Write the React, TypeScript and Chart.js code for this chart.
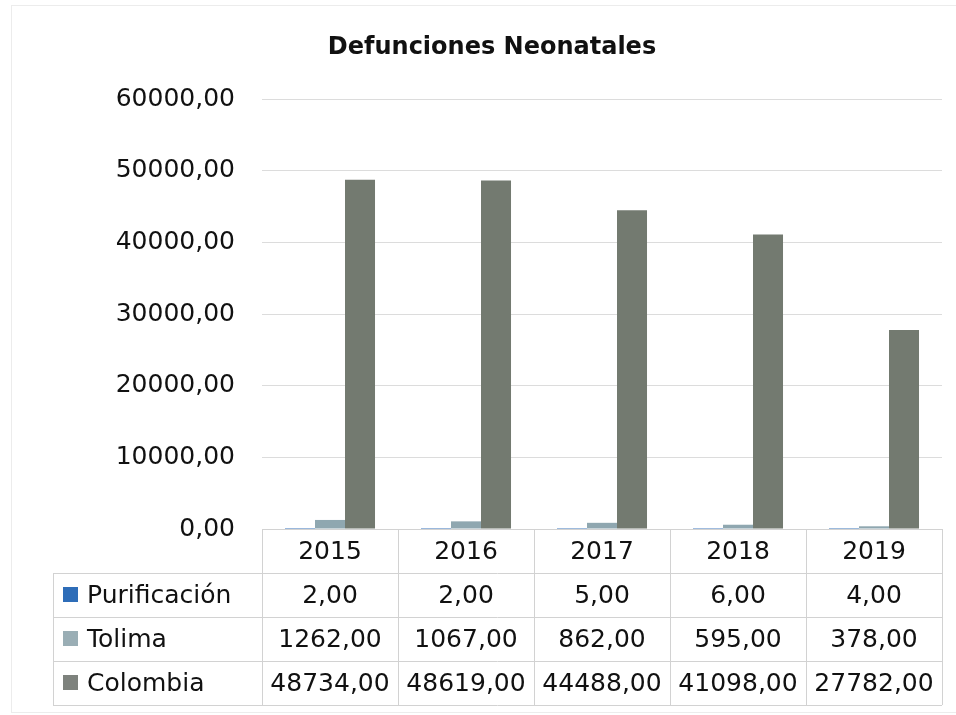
import React, { useEffect, useRef } from "react";
import { Chart, registerables } from "chart.js";

Chart.register(...registerables);

const years = ["2015", "2016", "2017", "2018", "2019"];
const purificacion = [2, 2, 5, 6, 4];
const tolima = [1262, 1067, 862, 595, 378];
const colombia = [48734, 48619, 44488, 41098, 27782];
const seriesNames = ["Purificación", "Tolima", "Colombia"];
const seriesColors = ["#2E6DB8", "#8FA7B0", "#737A70"];
const swatchColors = ["#2E6DB8", "#9AAEB5", "#7E827D"];
const yTicks = [0, 10000, 20000, 30000, 40000, 50000, 60000];
const title = "Defunciones Neonatales";

const FONT = "'DejaVu Sans', sans-serif";
const fmt = (v: number) => v.toFixed(2).replace(".", ",");

const tablePlugin = {
  id: "dataTable",
  afterDraw(chart: any) {
    const ctx = chart.ctx;
    const area = chart.chartArea;
    const xs = chart.scales.x;
    const n = years.length;
    const w = (area.right - area.left) / n;
    const rowH = 44;
    const top = area.bottom;
    const tableLeft = 53;
    const rows = [purificacion, tolima, colombia];
    ctx.save();
    // faint outer frame
    ctx.strokeStyle = "#ececec";
    ctx.lineWidth = 1;
    ctx.strokeRect(11.5, 5.5, 950, 707);

    // title
    ctx.fillStyle = "#111";
    ctx.font = `bold 24px ${FONT}`;
    ctx.textAlign = "center";
    ctx.textBaseline = "middle";
    ctx.fillText(title, 492, 48);

    ctx.strokeStyle = "#d2d2d2";
    ctx.lineWidth = 1;
    ctx.beginPath();
    ctx.moveTo(area.left, top + 0.5);
    ctx.lineTo(area.right, top + 0.5);
    for (let r = 1; r <= 4; r++) {
      const y = Math.round(top + r * rowH) + 0.5;
      ctx.moveTo(tableLeft, y);
      ctx.lineTo(area.right, y);
    }
    ctx.moveTo(tableLeft + 0.5, top + rowH);
    ctx.lineTo(tableLeft + 0.5, top + 4 * rowH);
    for (let i = 0; i <= n; i++) {
      const x = Math.round(area.left + i * w) + 0.5;
      ctx.moveTo(x, top);
      ctx.lineTo(x, top + 4 * rowH);
    }
    ctx.stroke();

    ctx.fillStyle = "#111";
    ctx.font = `25px ${FONT}`;
    ctx.textAlign = "center";
    ctx.textBaseline = "middle";
    for (let i = 0; i < n; i++) {
      const cx = xs.getPixelForValue(i);
      ctx.fillText(years[i], cx, top + rowH / 2 + 1);
      rows.forEach((vals, r) => {
        ctx.fillText(fmt(vals[i]), cx, top + (r + 1) * rowH + rowH / 2 + 1);
      });
    }
    ctx.textAlign = "left";
    seriesNames.forEach((name, r) => {
      const cy = top + (r + 1) * rowH + rowH / 2;
      ctx.fillStyle = swatchColors[r];
      ctx.fillRect(63, cy - 8, 15, 15);
      ctx.fillStyle = "#111";
      ctx.fillText(name, 87, cy + 1);
    });
    ctx.restore();
  },
};

export default function App() {
  const ref = useRef<HTMLCanvasElement>(null);
  useEffect(() => {
    document.body.style.margin = "0";
    const canvas = ref.current!;
    const chart = new Chart(canvas, {
      type: "bar",
      data: {
        labels: years,
        datasets: [
          { label: seriesNames[0], data: purificacion, backgroundColor: seriesColors[0] },
          { label: seriesNames[1], data: tolima, backgroundColor: seriesColors[1] },
          { label: seriesNames[2], data: colombia, backgroundColor: seriesColors[2] },
        ],
      },
      options: {
        responsive: false,
        animation: false,
        devicePixelRatio: 1,
        layout: { padding: { left: 0, right: 14, top: 99, bottom: 186 } },
        datasets: { bar: { categoryPercentage: 0.662, barPercentage: 1 } },
        plugins: {
          legend: { display: false },
          tooltip: { enabled: false },
          title: { display: false },
        },
        scales: {
          x: { display: false },
          y: {
            min: 0,
            max: 60000,
            afterBuildTicks: (s: any) => {
              s.ticks = yTicks.map((v) => ({ value: v }));
            },
            afterFit: (s: any) => {
              s.width = 262;
            },
            ticks: {
              callback: (v: any) => fmt(Number(v)),
              color: "#111",
              font: { family: FONT, size: 25 },
              padding: 27,
            },
            grid: { color: "#dcdcdc", drawTicks: false },
            border: { display: false },
          },
        },
      },
      plugins: [tablePlugin],
    });
    return () => chart.destroy();
  }, []);
  return (
    <div style={{ width: 956, height: 715, background: "#fff" }}>
      <canvas ref={ref} width={956} height={715} style={{ display: "block" }} />
    </div>
  );
}
